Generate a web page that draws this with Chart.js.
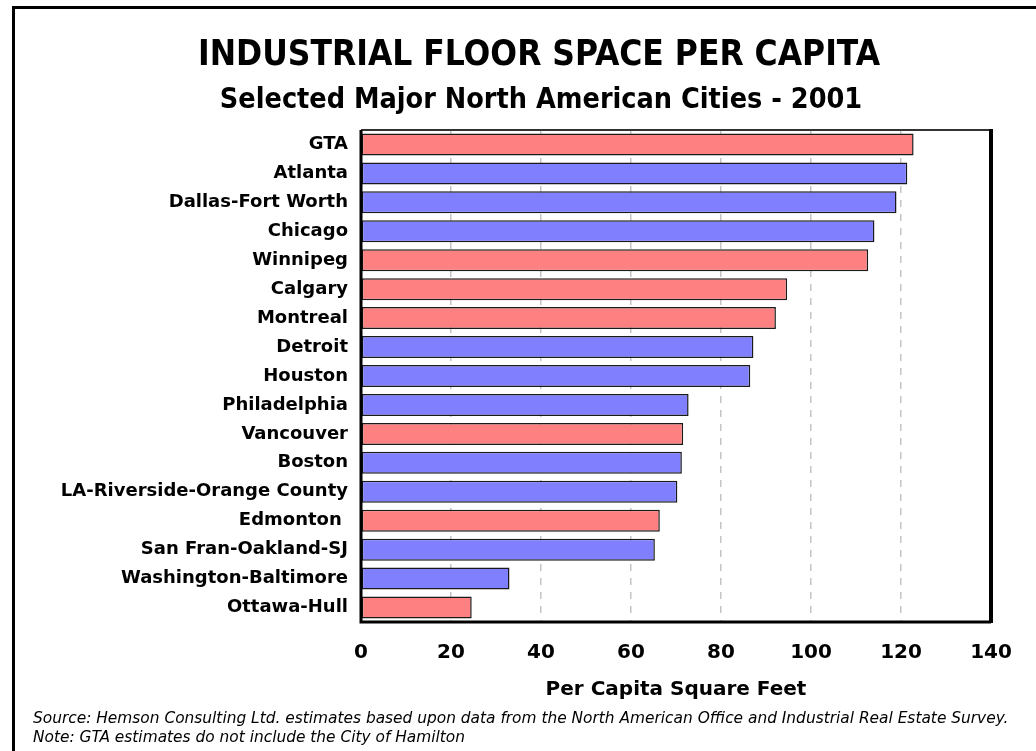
<!DOCTYPE html>
<html>
<head>
<meta charset="utf-8">
<script src="https://cdn.jsdelivr.net/npm/chart.js@4.4.1/dist/chart.umd.min.js"></script>
<style>
  html, body { margin: 0; padding: 0; background: #fff; }
  #wrap { width: 1036px; height: 751px; }
</style>
</head>
<body>
<div id="wrap"><canvas id="chart" width="1036" height="751"></canvas></div>
<script>
const cities = ['GTA', 'Atlanta', 'Dallas-Fort Worth', 'Chicago', 'Winnipeg', 'Calgary', 'Montreal',
  'Detroit', 'Houston', 'Philadelphia', 'Vancouver', 'Boston', 'LA-Riverside-Orange County',
  'Edmonton ', 'San Fran-Oakland-SJ', 'Washington-Baltimore', 'Ottawa-Hull'];
const sqFeet = [122.8, 121.4, 119.0, 114.1, 112.7, 94.7, 92.2, 87.2, 86.5, 72.8, 71.6, 71.3, 70.3, 66.4, 65.3, 33.0, 24.6];
const isCanadian = [true, false, false, false, true, true, true, false, false, false, true, false, false, true, false, false, true];
const xTicks = [0, 20, 40, 60, 80, 100, 120, 140];

const titleText = 'INDUSTRIAL FLOOR SPACE PER CAPITA';
const subtitleText = 'Selected Major North American Cities - 2001';
const notes = [
  'Source: Hemson Consulting Ltd. estimates based upon data from the North American Office and Industrial Real Estate Survey.',
  'Note: GTA estimates do not include the City of Hamilton'
];

const red = '#ff8080';
const blue = '#8080ff';

// outer frame, titles, plot box and footnotes
const decor = {
  id: 'decor',
  beforeDraw(c) {
    const ctx = c.ctx;
    ctx.save();
    ctx.fillStyle = '#fff';
    ctx.fillRect(0, 0, c.width, c.height);
    ctx.strokeStyle = '#000';
    ctx.lineWidth = 3;
    ctx.beginPath();
    ctx.moveTo(13.5, c.height);
    ctx.lineTo(13.5, 7.5);
    ctx.lineTo(c.width, 7.5);
    ctx.stroke();

    ctx.fillStyle = '#000';
    ctx.textAlign = 'center';
    ctx.textBaseline = 'middle';
    ctx.font = 'bold 35px "Liberation Sans Narrow", "DejaVu Sans Condensed", Arial, sans-serif';
    ctx.fillText(titleText, 539, 56);
    ctx.font = 'bold 28.5px "Liberation Sans Narrow", "DejaVu Sans Condensed", Arial, sans-serif';
    ctx.fillText(subtitleText, 541, 101);

    ctx.textAlign = 'left';
    ctx.font = 'italic 15.4px "DejaVu Sans", sans-serif';
    ctx.fillText(notes[0], 33, 719);
    ctx.fillText(notes[1], 33, 738);
    ctx.restore();
  },
  afterDatasetsDraw(c) {
    const a = c.chartArea;
    const ctx = c.ctx;
    ctx.save();
    ctx.strokeStyle = '#333';
    ctx.lineWidth = 2;
    ctx.beginPath();
    ctx.moveTo(a.left, a.top);
    ctx.lineTo(a.right, a.top);
    ctx.stroke();
    ctx.strokeStyle = '#000';
    ctx.lineWidth = 3;
    ctx.beginPath();
    ctx.moveTo(a.left, a.top);
    ctx.lineTo(a.left, a.bottom);
    ctx.lineTo(a.right, a.bottom);
    ctx.stroke();
    ctx.lineWidth = 4;
    ctx.beginPath();
    ctx.moveTo(a.right, a.top - 1);
    ctx.lineTo(a.right, a.bottom + 1);
    ctx.stroke();
    ctx.restore();
  }
};

new Chart(document.getElementById('chart'), {
  type: 'bar',
  data: {
    labels: cities,
    datasets: [{
      data: sqFeet,
      backgroundColor: isCanadian.map(c => c ? red : blue),
      borderColor: '#1a1a1a',
      borderWidth: 1.5,
      borderSkipped: false,
      barPercentage: 0.76,
      categoryPercentage: 1
    }]
  },
  options: {
    indexAxis: 'y',
    responsive: false,
    animation: false,
    layout: { padding: { left: 15, right: 45, top: 130, bottom: 47 } },
    plugins: {
      legend: { display: false },
      tooltip: { enabled: false }
    },
    scales: {
      x: {
        min: 0,
        max: 140,
        afterBuildTicks: s => { s.ticks = xTicks.map(v => ({ value: v })); },
        afterFit: s => { s.height = 82; },
        grid: {
          color: ctx => (ctx.tick.value === 0 || ctx.tick.value === 140) ? 'rgba(0,0,0,0)' : '#c4c4c4',
          lineWidth: 1.5,
          drawTicks: false
        },
        border: { display: false, dash: [7, 7] },
        ticks: {
          color: '#000',
          padding: 19,
          font: { family: '"DejaVu Sans", sans-serif', weight: 'bold', size: 20 }
        },
        title: {
          display: true,
          text: 'Per Capita Square Feet',
          color: '#000',
          padding: { top: 0, bottom: 2 },
          font: { family: '"DejaVu Sans", sans-serif', weight: 'bold', size: 20 }
        }
      },
      y: {
        afterFit: s => { s.width = 346; },
        grid: { display: false, drawTicks: false },
        border: { display: false },
        ticks: {
          color: '#000',
          padding: 13,
          autoSkip: false,
          font: { family: '"DejaVu Sans", sans-serif', weight: 'bold', size: 18 }
        }
      }
    }
  },
  plugins: [decor]
});
</script>
</body>
</html>
